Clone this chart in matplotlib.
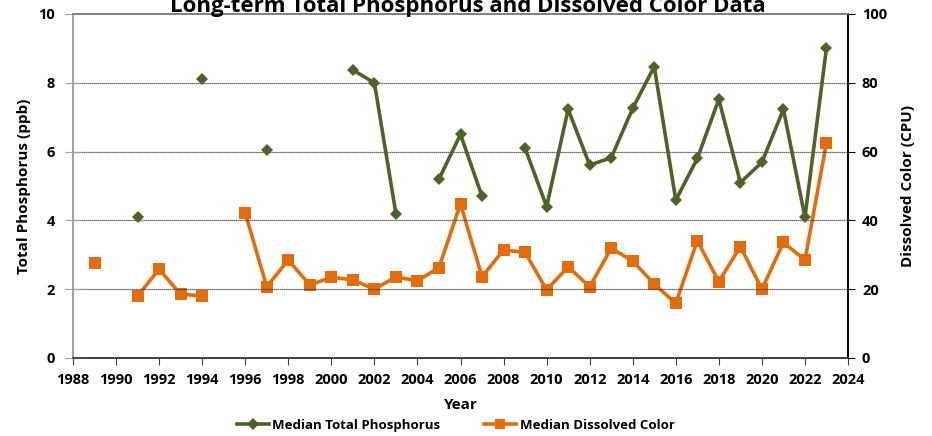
import numpy as np
import matplotlib
matplotlib.use("Agg")
import matplotlib.pyplot as plt
from matplotlib.lines import Line2D

plt.rcParams['font.family'] = ['Open Sans', 'DejaVu Sans']

years = list(range(1989, 2024))

# Median total phosphorus (ppb); None = no data that year
phosphorus = [None, None, 4.1, None, None, 8.1, None, None, 6.05, None,
              None, None, 8.37, 8.0, 4.2, None, 5.2, 6.5, 4.7, None,
              6.1, 4.4, 7.23, 5.61, 5.82, 7.26, 8.47, 4.59, 5.8, 7.52,
              5.1, 5.69, 7.23, 4.09, 9.02]

# Median dissolved color (CPU)
color = [27.5, None, 18.0, 25.8, 18.5, 18.1, None, 42.2, 20.7, 28.5,
         21.2, 23.5, 22.7, 20.0, 23.6, 22.4, 26.3, 44.8, 23.6, 31.4,
         30.7, 19.8, 26.5, 20.7, 31.9, 28.2, 21.5, 15.9, 34.1, 22.2,
         32.4, 20.0, 33.6, 28.5, 62.6]

x_ticks = list(range(1988, 2025, 2))
tp_ticks = [0, 2, 4, 6, 8, 10]
dc_ticks = [0, 20, 40, 60, 80, 100]

GREEN = '#4F6228'
ORANGE = '#E46C0A'

def to_arr(vals):
    return np.array([np.nan if v is None else v for v in vals], dtype=float)

fig = plt.figure(figsize=(9.32, 4.36), dpi=100)
ax = fig.add_axes([0.0783, 0.1789, 0.8316, 0.7890])
ax2 = ax.twinx()

yr = np.array(years)
ax2.plot(yr, to_arr(color), color=ORANGE, lw=2.6, marker='s', ms=9,
         markeredgewidth=0, zorder=3)
ax.plot(yr, to_arr(phosphorus), color=GREEN, lw=2.6, marker='D', ms=6.5,
        markeredgewidth=0, zorder=4)
ax.set_zorder(ax2.get_zorder() + 1)
ax.patch.set_visible(False)

ax.set_xlim(1988, 2024)
ax.set_ylim(0, 10)
ax2.set_ylim(0, 100)
ax.set_xticks(x_ticks)
ax.set_yticks(tp_ticks)
ax2.set_yticks(dc_ticks)

for t in [2, 4, 6, 8]:
    ax.axhline(t, color='#404040', lw=0.9, ls=(0, (1, 0.6)), zorder=1)

tick_font = dict(fontsize=10.5, fontweight='bold')
ax.set_xticklabels([str(t) for t in x_ticks], **tick_font)
ax.set_yticklabels([str(t) for t in tp_ticks], **tick_font)
ax2.set_yticklabels([str(t) for t in dc_ticks], **tick_font)

ax.tick_params(axis='x', direction='out', length=5, color='#404040', pad=6)
ax.tick_params(axis='y', direction='inout', length=12, color='#A0A0A0', pad=7)
ax2.tick_params(axis='y', direction='out', length=5, color='black', pad=5)

for a in (ax, ax2):
    a.spines['left'].set_color('#A0A0A0')
    a.spines['right'].set_color('black')
    a.spines['top'].set_color('#808080')
    a.spines['bottom'].set_color('#404040')
    for s in a.spines.values():
        s.set_linewidth(1.2)

ax.set_xlabel('Year', fontsize=11, fontweight='bold', labelpad=8)
ax.set_ylabel('Total Phosphorus (ppb)', fontsize=11, fontweight='bold', labelpad=5)
ax2.set_ylabel('Dissolved Color (CPU)', fontsize=11, fontweight='bold', labelpad=10)

fig.text(0.502, 0.985, 'Long-term Total Phosphorus and Dissolved Color Data',
         ha='center', va='center', fontsize=16, fontweight='bold')

handles = [
    Line2D([], [], color=GREEN, lw=2.6, marker='D', ms=6, markeredgewidth=0),
    Line2D([], [], color=ORANGE, lw=2.6, marker='s', ms=7, markeredgewidth=0),
]
fig.legend(handles, ['Median Total Phosphorus', 'Median Dissolved Color'],
           loc='center', bbox_to_anchor=(0.489, 0.024), ncol=2, frameon=False,
           prop=dict(size=9.5, weight='bold'), handlelength=2.4,
           handletextpad=0.3, columnspacing=3.3)

fig.savefig('out.png', dpi=100)
